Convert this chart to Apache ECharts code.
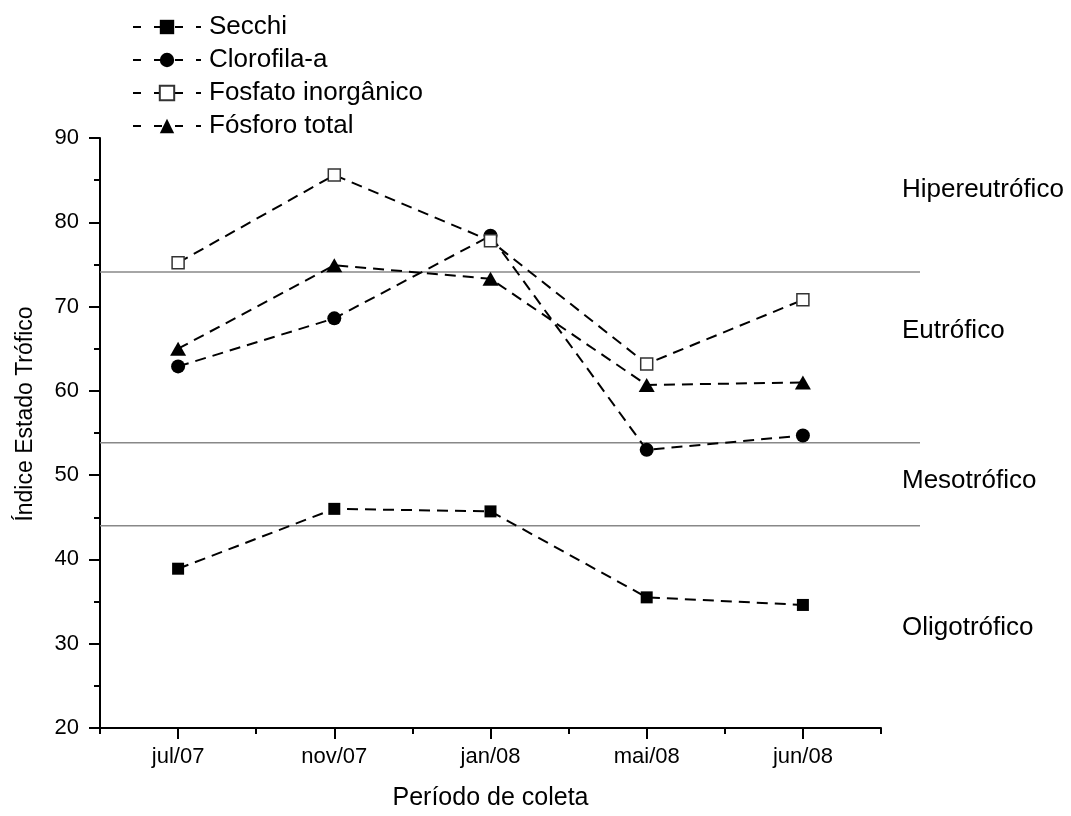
<!DOCTYPE html>
<html>
<head>
<meta charset="utf-8">
<script src="https://cdn.jsdelivr.net/npm/echarts@6/dist/echarts.min.js"></script>
<style>
html,body{margin:0;padding:0;background:#fff;}
#chart{width:1071px;height:816px;}
</style>
</head>
<body>
<div id="chart"></div>
<script>
const categories = ['jul/07', 'nov/07', 'jan/08', 'mai/08', 'jun/08'];
const secchi = [38.9, 46.0, 45.7, 35.5, 34.6];
const clorofila = [62.9, 68.6, 78.4, 53.0, 54.7];
const fosfato = [75.2, 85.6, 77.8, 63.2, 70.8];
const fosforo = [65.0, 74.9, 73.3, 60.7, 61.0];
const thresholds = [74.2, 54.1, 44.3];
const zoneNames = ['Hipereutrófico', 'Eutrófico', 'Mesotrófico', 'Oligotrófico'];
const yTicks = [20, 30, 40, 50, 60, 70, 80, 90];

const FONT = "'Liberation Sans', Arial, sans-serif";
const chart = echarts.init(document.getElementById('chart'), null, {renderer: 'canvas'});

const dash = [11, 7];
function dataSeries(name, data, symbol, size, itemStyle) {
  return {
    name: name, type: 'line', data: data,
    xAxisIndex: 0, yAxisIndex: 0,
    symbol: symbol, symbolSize: size, showAllSymbol: true,
    lineStyle: {color: '#000', width: 2, type: dash},
    itemStyle: itemStyle,
    emphasis: {disabled: true},
    z: 5, animation: false
  };
}

const series = [];
thresholds.forEach(function (t) {
  series.push({
    type: 'line', xAxisIndex: 2, yAxisIndex: 1,
    data: [[0, t], [1, t]], symbol: 'none', silent: true,
    lineStyle: {color: '#888', width: 1.5}, z: 1, animation: false
  });
});
series.push(dataSeries('Secchi', secchi, 'rect', 12, {color: '#000'}));
series.push(dataSeries('Clorofila-a', clorofila, 'circle', 14, {color: '#000'}));
series.push(dataSeries('Fosfato inorgânico', fosfato, 'rect', 12, {color: '#fff', borderColor: '#333', borderWidth: 1.5}));
series.push(dataSeries('Fósforo total', fosforo, 'triangle', [16, 14], {color: '#000'}));

const zoneTops = [192, 333, 483, 630];

chart.setOption({
  backgroundColor: '#fff',
  animation: false,
  textStyle: {fontFamily: FONT},
  legend: {
    orient: 'vertical', left: 127, top: 9,
    itemWidth: 68, itemHeight: 18, itemGap: 7,
    lineStyle: {type: [8, 13], width: 2},
    textStyle: {fontFamily: FONT, fontSize: 26, color: '#000', lineHeight: 26, padding: [0, 0, 0, 3]},
    data: ['Secchi', 'Clorofila-a', 'Fosfato inorgânico', 'Fósforo total'],
    selectedMode: false
  },
  grid: [
    {left: 100, right: 190, top: 138, bottom: 84, containLabel: false},
    {left: 100, right: 151, top: 138, bottom: 84, containLabel: false}
  ],
  xAxis: [
    {
      type: 'category', gridIndex: 0, data: categories, boundaryGap: true, position: 'bottom',
      name: 'Período de coleta', nameLocation: 'middle', nameGap: 58,
      nameTextStyle: {fontFamily: FONT, fontSize: 25, color: '#000'},
      axisLine: {show: true, lineStyle: {color: '#000', width: 2}},
      axisTick: {show: true, alignWithLabel: true, length: 11, lineStyle: {color: '#000', width: 2}},
      axisLabel: {fontFamily: FONT, fontSize: 22, color: '#000', margin: 18},
      splitLine: {show: false}
    },
    {
      type: 'category', gridIndex: 0, data: categories, boundaryGap: true, position: 'bottom',
      axisLine: {show: false},
      axisTick: {show: true, alignWithLabel: false, length: 6, lineStyle: {color: '#000', width: 2}},
      axisLabel: {show: false},
      splitLine: {show: false}
    },
    {
      type: 'value', gridIndex: 1, min: 0, max: 1, show: false
    }
  ],
  yAxis: [
    {
      type: 'value', gridIndex: 0, min: yTicks[0], max: yTicks[yTicks.length - 1], interval: 10,
      name: 'Índice Estado Trófico', nameLocation: 'middle', nameGap: 63, nameRotate: 90,
      nameTextStyle: {fontFamily: FONT, fontSize: 23, color: '#000', padding: [0, 0, 0, 38]},
      axisLine: {show: true, lineStyle: {color: '#000', width: 2}},
      axisTick: {show: true, length: 11, lineStyle: {color: '#000', width: 2}},
      minorTick: {show: true, splitNumber: 2, length: 6, lineStyle: {color: '#000', width: 2}},
      axisLabel: {fontFamily: FONT, fontSize: 22, color: '#000', margin: 21},
      splitLine: {show: false}
    },
    {
      type: 'value', gridIndex: 1, min: yTicks[0], max: yTicks[yTicks.length - 1], show: false
    }
  ],
  graphic: zoneNames.map(function (n, i) {
    return {
      type: 'text', left: 902, top: zoneTops[i] - 15, z: 10,
      style: {text: n, font: '26px ' + FONT, fill: '#000'}
    };
  }),
  series: series
});
</script>
</body>
</html>
